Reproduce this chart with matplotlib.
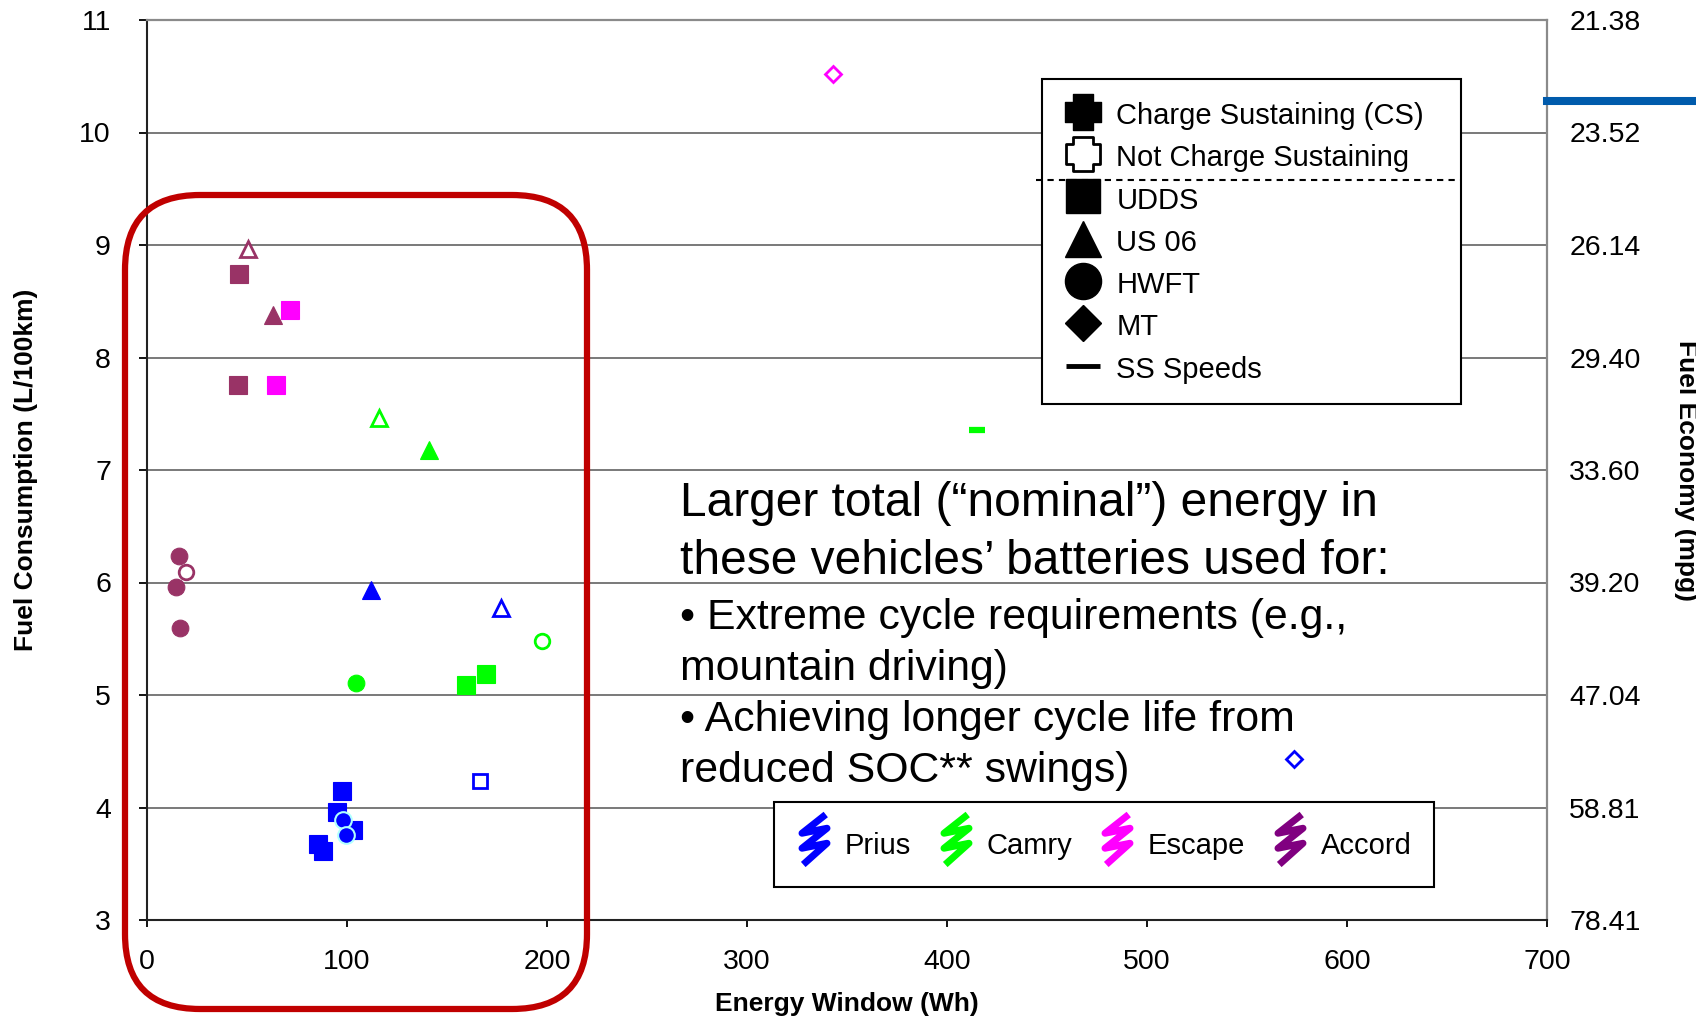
import matplotlib
matplotlib.use("Agg")
import matplotlib.pyplot as plt
from matplotlib.lines import Line2D
from matplotlib.path import Path
from matplotlib.patches import FancyBboxPatch
from matplotlib.transforms import IdentityTransform

plt.rcParams['font.family'] = ['Liberation Sans', 'DejaVu Sans']

# ---------------- data ----------------
vehicles = ["Prius", "Camry", "Escape", "Accord"]
cycles = ["UDDS", "US 06", "HWFT", "MT", "SS Speeds"]

point_vehicle = ["Prius", "Prius", "Prius", "Prius", "Prius", "Prius", "Prius",
                 "Prius", "Prius", "Prius", "Prius",
                 "Camry", "Camry", "Camry", "Camry", "Camry", "Camry", "Camry",
                 "Escape", "Escape", "Escape",
                 "Accord", "Accord", "Accord", "Accord", "Accord", "Accord", "Accord", "Accord"]
point_cycle = ["UDDS", "UDDS", "UDDS", "UDDS", "UDDS", "HWFT", "HWFT",
               "US 06", "US 06", "UDDS", "MT",
               "US 06", "US 06", "HWFT", "UDDS", "UDDS", "HWFT", "SS Speeds",
               "UDDS", "UDDS", "MT",
               "US 06", "UDDS", "US 06", "UDDS", "HWFT", "HWFT", "HWFT", "HWFT"]
point_cs = [True, True, True, True, True, True, True,
            True, False, False, False,
            False, True, True, True, True, False, True,
            True, True, False,
            False, True, True, True, True, False, True, True]
energy_wh = [97.3, 95.1, 102.8, 85.3, 87.8, 97.8, 99.5,
             112.2, 177.0, 166.5, 573.7,
             115.8, 141.0, 104.6, 159.5, 169.6, 197.3, 415.0,
             71.6, 64.3, 342.8,
             50.3, 46.0, 62.8, 45.5, 16.0, 19.4, 14.5, 16.7]
fuel_l100km = [4.15, 3.96, 3.80, 3.68, 3.61, 3.89, 3.76,
               5.93, 5.77, 4.24, 4.43,
               7.46, 7.18, 5.11, 5.09, 5.19, 5.48, 7.36,
               8.42, 7.76, 10.52,
               8.96, 8.74, 8.38, 7.76, 6.24, 6.09, 5.96, 5.60]

fuel_ticks = [3, 4, 5, 6, 7, 8, 9, 10, 11]
mpg_tick_labels = ["78.41", "58.81", "47.04", "39.20", "33.60", "29.40", "26.14", "23.52", "21.38"]
energy_ticks = [0, 100, 200, 300, 400, 500, 600, 700]

# ---------------- styles ----------------
marker_color = {"Prius": "#0000FF", "Camry": "#00FF00", "Escape": "#FF00FF", "Accord": "#993366"}
legend_color = {"Prius": "#0000FF", "Camry": "#00FF00", "Escape": "#FF00FF", "Accord": "#800080"}
cycle_marker = {"UDDS": "s", "US 06": "^", "HWFT": "o", "MT": "D", "SS Speeds": "_"}
filled_size = {"s": 12.5, "^": 13.5, "o": 12, "D": 11, "_": 12}
open_size = {"s": 10.5, "^": 11.5, "o": 10.5, "D": 8.5, "_": 12}

W, H = 1696, 1017
fig = plt.figure(figsize=(W / 100, H / 100), dpi=100)
ax = fig.add_axes([147 / W, 97 / H, 1400 / W, 900 / H])

ax.set_xlim(0, 700)
ax.set_ylim(3, 11)
ax.set_xticks(energy_ticks)
ax.set_yticks(fuel_ticks)
ax.grid(axis='y', color='#6e6e6e', lw=1.3)
ax.grid(axis='x', visible=False)
ax.set_axisbelow(True)
for s in ['top', 'right']:
    ax.spines[s].set_color('#8a8a8a')
    ax.spines[s].set_linewidth(1.6)
for s in ['left', 'bottom']:
    ax.spines[s].set_color('#222222')
    ax.spines[s].set_linewidth(1.5)
ax.tick_params(axis='y', which='both', length=6, width=1.3, pad=20, labelsize=20.5, direction='out')
ax.tick_params(axis='x', length=5, width=1.3, pad=16, labelsize=20.5, direction='out')

# data points (CS filled, non-CS open)
for v, c, cs, x, y in zip(point_vehicle, point_cycle, point_cs, energy_wh, fuel_l100km):
    m = cycle_marker[c]
    col = marker_color[v]
    if c == "SS Speeds":
        ax.plot([x], [y], ls='none', marker='_', ms=12, mew=4.5, color=col, zorder=3)
    elif cs:
        edge = "#b0ffff" if (v == "Prius" and c == "HWFT") else col
        ax.plot([x], [y], ls='none', marker=m, ms=filled_size[m], mfc=col, mec=edge,
                mew=1.5 if edge != col else 0.8, zorder=4 if c == "HWFT" else 3)
    else:
        ax.plot([x], [y], ls='none', marker=m, ms=open_size[m], mfc='white', mec=col,
                mew=2.0, zorder=3)

ax.set_xlabel("Energy Window (Wh)", fontsize=19, fontweight='bold', labelpad=12)
ax.set_ylabel("Fuel Consumption (L/100km)", fontsize=19, fontweight='bold', labelpad=30)

# right axis: fuel economy
ax2 = ax.twinx()
ax2.set_ylim(3, 11)
ax2.set_yticks(fuel_ticks)
ax2.set_yticklabels(mpg_tick_labels)
ax2.tick_params(axis='y', length=0, pad=16, labelsize=20.5)
for s in ax2.spines.values():
    s.set_visible(False)
ax2.set_ylabel("Fuel Economy (mpg)", fontsize=19, fontweight='bold', rotation=270,
               labelpad=24, va='bottom')

# ---------------- legend 1: CS / cycles ----------------
a = 0.55
fat_plus = Path([(-a, -1), (a, -1), (a, -a), (1, -a), (1, a), (a, a), (a, 1), (-a, 1),
                 (-a, a), (-1, a), (-1, -a), (-a, -a), (-a, -1)], closed=True)
h1 = [
    Line2D([], [], ls='none', marker=fat_plus, ms=26, mfc='k', mec='k'),
    Line2D([], [], ls='none', marker=fat_plus, ms=25, mfc='white', mec='k', mew=2),
    Line2D([], [], ls='none', marker='s', ms=25, mfc='k', mec='k'),
    Line2D([], [], ls='none', marker='^', ms=26, mfc='k', mec='k'),
    Line2D([], [], ls='none', marker='o', ms=26, mfc='k', mec='k'),
    Line2D([], [], ls='none', marker='D', ms=18, mfc='k', mec='k'),
    Line2D([], [], ls='none', marker='_', ms=24, mec='k', mew=3.5),
]
l1 = ["Charge Sustaining (CS)", "Not Charge Sustaining"] + cycles
leg1 = ax.legend(h1, l1, loc='upper left', borderaxespad=0,
                 fontsize=21, frameon=True, fancybox=False, framealpha=1, edgecolor='black',
                 handlelength=1.45, handleheight=1.15, handletextpad=0.42, labelspacing=0.41,
                 borderpad=0.69, mode='expand',
                 bbox_to_anchor=(0.639, 0.5, 0.2996, 0.434), bbox_transform=ax.transAxes)
leg1.get_frame().set_linewidth(1.5)
ax.add_artist(leg1)

# ---------------- legend 2: vehicles ----------------
squiggle = Path([(0.45, 1.0), (-0.5, 0.25), (0.5, 0.45), (-0.5, -0.35),
                 (0.5, -0.15), (-0.45, -1.0)])
h2 = [Line2D([], [], ls='none', marker=squiggle, ms=36, mfc='none', mec=legend_color[v], mew=5,
             solid_joinstyle='round')
      for v in vehicles]
leg2 = ax.legend(h2, vehicles, loc='lower left', bbox_to_anchor=(0.448, 0.0367), borderaxespad=0,
                 ncol=4, fontsize=21, frameon=True, fancybox=False, framealpha=1, edgecolor='black',
                 handlelength=1.2, handleheight=1.8, handletextpad=0.45, columnspacing=0.95,
                 borderpad=0.75)
leg2.get_frame().set_linewidth(1.5)

# ---------------- annotation text ----------------
ax.text(0.381, 0.4308, "Larger total (\u201cnominal\u201d) energy in\nthese vehicles\u2019 batteries used for:",
        transform=ax.transAxes, fontsize=34.5, ha='left', va='center', linespacing=1.38)
ax.text(0.381, 0.2506, "\u2022 Extreme cycle requirements (e.g.,\nmountain driving)\n"
        "\u2022 Achieving longer cycle life from\nreduced SOC** swings)",
        transform=ax.transAxes, fontsize=30.8, ha='left', va='center', linespacing=1.36)

# ---------------- decorations ----------------
fig.canvas.draw()
t = leg1.get_texts()
r1 = t[1].get_window_extent()
r2 = t[2].get_window_extent()
lb = leg1.get_window_extent()
ysep = (r1.y0 + r2.y1) / 2 - 1
fig.add_artist(Line2D([lb.x0 - 6, lb.x1], [ysep, ysep], color='black', lw=1.5,
                      ls=(0, (3, 2.5)), transform=IdentityTransform()))

fig.add_artist(FancyBboxPatch((125, 8), 462, 814, boxstyle="round,pad=0,rounding_size=75",
                              fill=False, edgecolor='#C00000', lw=4.5,
                              transform=IdentityTransform(), zorder=5))
fig.add_artist(Line2D([1547 / W, 1.0], [0.9007, 0.9007], color='#005BAC', lw=5.8,
                      transform=fig.transFigure))

fig.savefig("out.png", dpi=100)
